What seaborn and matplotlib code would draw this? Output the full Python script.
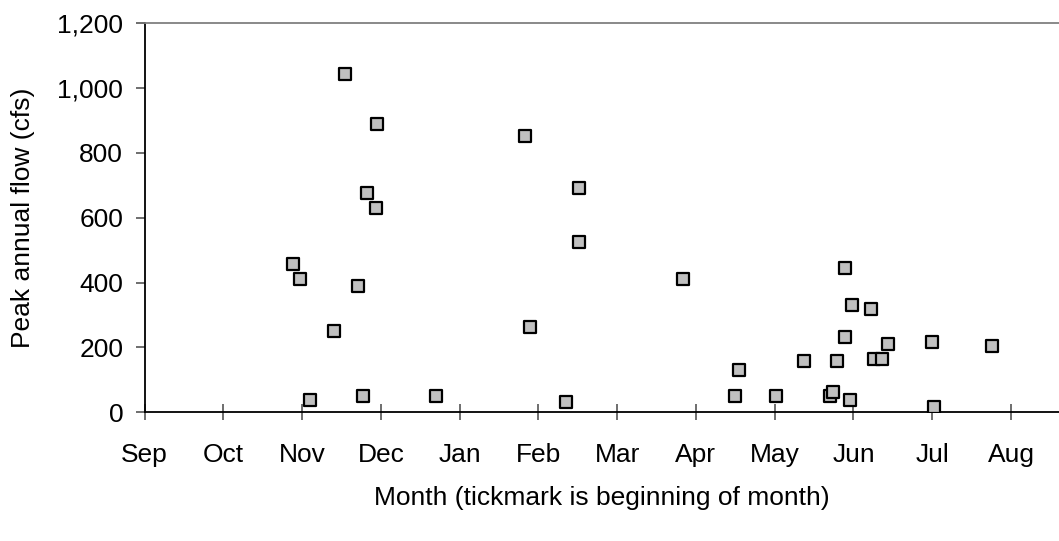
import pandas as pd
import seaborn as sns
import matplotlib.pyplot as plt
from matplotlib.ticker import FuncFormatter

# -------------------------------
# Data (x = months after Sep 1, y = peak flow in cfs)
# -------------------------------
month_offset = [2.548, 2.954, 4.829, 2.819, 2.933, 1.884, 1.969, 2.709,
                2.408, 4.888, 2.103, 2.768, 3.699, 5.514, 5.514, 6.834,
                7.549, 7.494, 5.349, 8.894, 8.979, 9.224, 8.894, 9.445,
                9.995, 10.765, 8.370, 8.785, 9.255, 9.364, 8.015, 8.700,
                8.734, 8.950, 10.020]
peak_flow = [1044, 890, 851, 677, 631, 457, 411, 390,
             251, 264, 38, 51, 51, 690, 524, 411,
             130, 50, 31, 444, 331, 318, 231, 211,
             218, 205, 157, 157, 164, 164, 51, 51,
             64, 37, 17]
month_labels = ["Sep", "Oct", "Nov", "Dec", "Jan", "Feb",
                "Mar", "Apr", "May", "Jun", "Jul", "Aug"]

df = pd.DataFrame({"month": month_offset, "flow": peak_flow})

# -------------------------------
# Plot
# -------------------------------
sns.set_style("white")
plt.rcParams["font.family"] = ["Liberation Sans", "DejaVu Sans"]
plt.rcParams["text.color"] = "black"
plt.rcParams["axes.labelcolor"] = "black"
plt.rcParams["xtick.labelcolor"] = "black"
plt.rcParams["ytick.labelcolor"] = "black"

fig = plt.figure(figsize=(10.59, 5.41), dpi=100)
ax = fig.add_axes([0.1366, 0.2379, 0.8634, 0.7196])

sns.scatterplot(
    data=df, x="month", y="flow", ax=ax,
    marker="s", s=80, color="#c0c0c0",
    edgecolor="black", linewidth=1.6, zorder=3
)

ax.set_xlim(0, 11.61)
ax.set_ylim(0, 1200)
ax.set_xticks(range(12))
ax.set_xticklabels(month_labels)
ax.set_yticks(range(0, 1201, 200))
ax.yaxis.set_major_formatter(FuncFormatter(lambda v, p: f"{int(v):,}"))

ax.spines["right"].set_visible(False)
ax.spines["top"].set_color("#808080")
ax.spines["top"].set_linewidth(1.3)
for side in ["left", "bottom"]:
    ax.spines[side].set_color("black")
    ax.spines[side].set_linewidth(1.3)

ax.tick_params(axis="x", direction="inout", length=12, width=1.2,
               color="#555555", labelsize=19, pad=16, bottom=True)
ax.tick_params(axis="y", direction="out", length=6.5, width=1.2,
               color="#555555", labelsize=19, pad=9, left=True)

ax.set_xlabel("Month (tickmark is beginning of month)", fontsize=19,
              labelpad=14)
ax.set_ylabel("Peak annual flow (cfs)", fontsize=19, labelpad=16)

plt.savefig("out.png", dpi=100)
